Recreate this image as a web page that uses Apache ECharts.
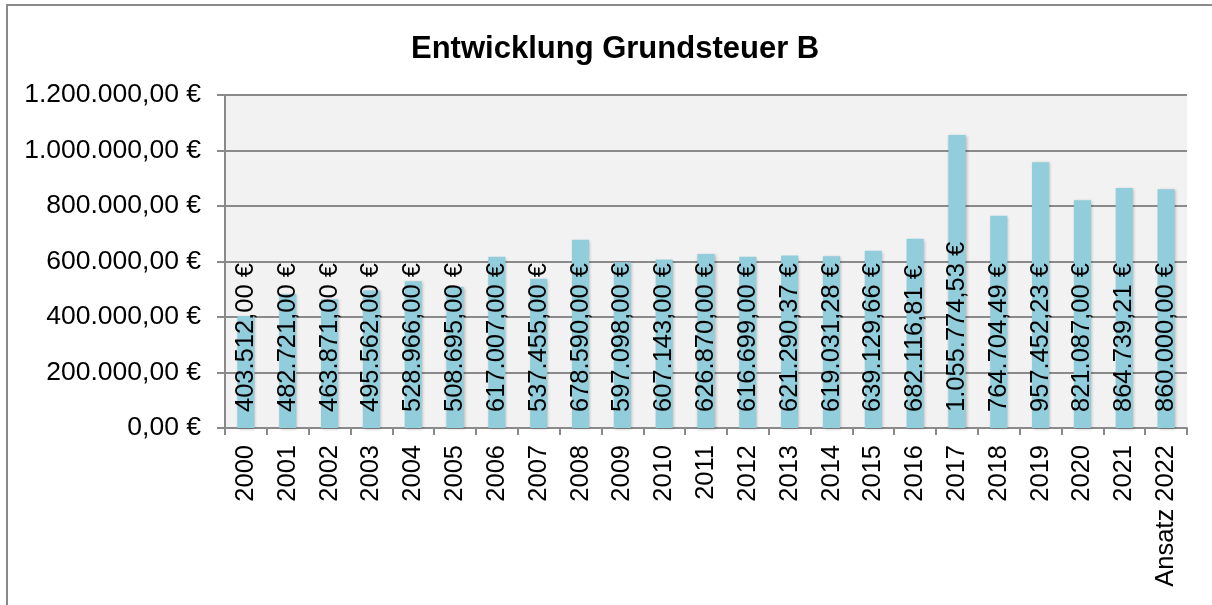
<!DOCTYPE html>
<html>
<head>
<meta charset="utf-8">
<script src="https://cdn.jsdelivr.net/npm/echarts@6/dist/echarts.min.js"></script>
<style>
  html, body { margin: 0; padding: 0; background: #fff; overflow: hidden; width: 1212px; height: 605px; }
  #chart { position: absolute; left: 0; top: 0; width: 1212px; height: 605px; }
</style>
</head>
<body>
<div id="chart"></div>
<script>
// Jahre / Kategorien
var years = ['2000', '2001', '2002', '2003', '2004', '2005', '2006', '2007', '2008', '2009',
  '2010', '2011', '2012', '2013', '2014', '2015', '2016', '2017', '2018', '2019',
  '2020', '2021', 'Ansatz 2022'];
// Grundsteuer B in Euro
var grundsteuerB = [403512, 482721, 463871, 495562, 528966, 508695, 617007, 537455, 678590, 597098,
  607143, 626870, 616699, 621290.37, 619031.28, 639129.66, 682116.81, 1055774.53, 764704.49, 957452.23,
  821087, 864739.21, 860000];
// Y-Achse
var yMin = 0, yMax = 1200000, yStep = 200000;

// deutsches Zahlenformat: 1.234.567,89 €
function euro(v) {
  var fixed = Number(v).toFixed(2);
  var parts = fixed.split('.');
  var intPart = parts[0].replace(/\B(?=(\d{3})+(?!\d))/g, '.');
  return intPart + ',' + parts[1] + ' €';
}

var chart = echarts.init(document.getElementById('chart'));
var option = {
  animation: false,
  // Rahmen nur links und oben sichtbar
  graphic: [{
    type: 'polyline',
    silent: true,
    shape: { points: [[7, 700], [7, 5], [1300, 5]] },
    style: { stroke: '#8a8a8a', lineWidth: 2, fill: null }
  }],
  title: {
    text: 'Entwicklung Grundsteuer B',
    left: 406,
    top: 29,
    textStyle: { fontFamily: 'Liberation Sans, Arial', fontWeight: 'bold', fontSize: 31, color: '#000' }
  },
  grid: { left: 225, right: 25, top: 95, bottom: 177, show: true, backgroundColor: '#f2f2f2', borderWidth: 0 },
  xAxis: {
    type: 'category',
    data: years,
    axisLine: { lineStyle: { color: '#8a8a8a', width: 2 } },
    axisTick: { show: true, length: 7, lineStyle: { color: '#8a8a8a', width: 2 } },
    axisLabel: { rotate: 90, margin: 17, interval: 0, color: '#000', fontFamily: 'Liberation Sans, Arial', fontSize: 25.5 }
  },
  yAxis: {
    type: 'value',
    min: yMin, max: yMax, interval: yStep,
    axisLine: { show: true, lineStyle: { color: '#8a8a8a', width: 2 } },
    axisTick: { show: true, length: 8, lineStyle: { color: '#8a8a8a', width: 2 } },
    splitLine: { lineStyle: { color: '#8a8a8a', width: 2 } },
    axisLabel: { margin: 24, color: '#000', fontFamily: 'Liberation Sans, Arial', fontSize: 26.5, formatter: euro }
  },
  series: [{
    type: 'bar',
    data: grundsteuerB,
    barWidth: '41%',
    itemStyle: {
      color: '#92cddc',
      shadowBlur: 3,
      shadowColor: 'rgba(0,0,0,0.25)',
      shadowOffsetX: 1,
      shadowOffsetY: 1
    },
    label: {
      show: true,
      position: 'insideBottom',
      distance: 16,
      rotate: 90,
      align: 'left',
      verticalAlign: 'middle',
      color: '#000',
      fontFamily: 'Liberation Sans, Arial',
      fontSize: 25.5,
      formatter: function (p) { return euro(p.value); }
    }
  }]
};
chart.setOption(option);
</script>
</body>
</html>
